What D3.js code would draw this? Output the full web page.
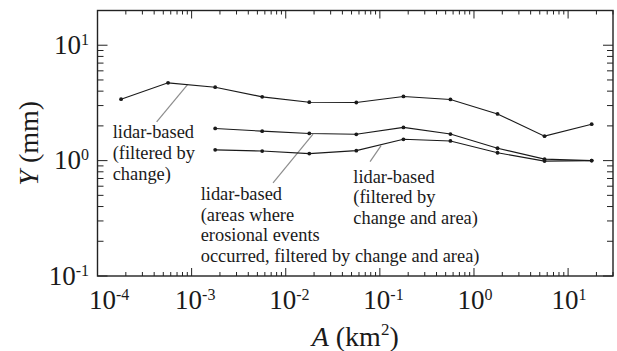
<!DOCTYPE html>
<html>
<head>
<meta charset="utf-8">
<script src="https://cdn.jsdelivr.net/npm/d3@7"></script>
<style>
  body { margin: 0; background: #fff; }
</style>
</head>
<body>
<div id="chart-container"></div>
<script>
// Drainage area A (km2) of each bin
var areas = [1.78e-4, 5.62e-4, 1.78e-3, 5.62e-3, 1.78e-2, 5.62e-2, 0.178, 0.562, 1.78, 5.62, 17.8];

// Y (mm) for each series
var filteredByChange = [3.41, 4.72, 4.33, 3.57, 3.21, 3.19, 3.60, 3.39, 2.54, 1.63, 2.07];
var erosionalAreas  = [null, null, 1.90, 1.80, 1.72, 1.69, 1.94, 1.70, 1.28, 1.03, 1.00];
var changeAndArea   = [null, null, 1.24, 1.21, 1.15, 1.22, 1.53, 1.48, 1.17, 0.99, 1.00];

var xTicks = [1e-4, 1e-3, 1e-2, 1e-1, 1e0, 1e1];
var yTicks = [1e-1, 1e0, 1e1];

// leader lines from labels to curves, in data units [A, Y]
var leaders = [
  [[4.25e-4, 2.17], [9.1e-4, 4.58]],
  [[7.33e-3, 0.64], [0.0195, 1.70]],
  [[0.0787, 0.98], [0.103, 1.35]]
];

var labels = [
  { x: 112.7, y: 138.3, lines: ["lidar-based", "(filtered by", "change)"] },
  { x: 200.7, y: 200, lines: ["lidar-based", "(areas where", "erosional events", "occurred, filtered by change and area)"] },
  { x: 353.3, y: 182.5, lines: ["lidar-based", "(filtered by", "change and area)"] }
];

var FONT = "'Liberation Serif'";

var margin = { top: 10.5, right: 4, bottom: 75, left: 97.5 },
  width = 617 - margin.left - margin.right,
  height = 351 - margin.top - margin.bottom;

var svg = d3.select("#chart-container")
  .append("svg")
  .attr("width", 617)
  .attr("height", 351)
  .append("g")
  .attr("transform", "translate(" + margin.left + "," + margin.top + ")");

var xScale = d3.scaleLog().domain([1e-4, 30]).range([0, width]);
var yScale = d3.scaleLog().domain([0.1, 20]).range([height, 0]);

// text helper with the serif font set directly
function addText(x, y, size) {
  return svg.append("text")
    .attr("x", x).attr("y", y)
    .attr("font-size", size)
    .style("font-family", FONT)
    .style("fill", "#1a1a1a");
}

// minor ticks
function minorTicks(scale) {
  var d = scale.domain(), out = [];
  for (var e = Math.floor(Math.log10(d[0])); e <= Math.ceil(Math.log10(d[1])); e++) {
    for (var m = 1; m < 10; m++) {
      var v = m * Math.pow(10, e);
      if (v >= d[0] * 0.999 && v <= d[1] * 1.001) out.push({ v: v, major: m === 1 });
    }
  }
  return out;
}

var tickColor = "#222";
var xt = minorTicks(xScale), yt = minorTicks(yScale);

var ticks = svg.append("g").attr("stroke", tickColor).attr("stroke-width", 1);
xt.forEach(function(t) {
  var x = xScale(t.v), len = t.major ? 8 : 4;
  ticks.append("line").attr("x1", x).attr("x2", x).attr("y1", height).attr("y2", height - len);
  ticks.append("line").attr("x1", x).attr("x2", x).attr("y1", 0).attr("y2", len);
});
yt.forEach(function(t) {
  var y = yScale(t.v), len = t.major ? 10 : 6;
  ticks.append("line").attr("y1", y).attr("y2", y).attr("x1", 0).attr("x2", len);
  ticks.append("line").attr("y1", y).attr("y2", y).attr("x1", width).attr("x2", width - len);
});

// frame
svg.append("rect")
  .attr("width", width).attr("height", height)
  .attr("fill", "none").attr("stroke", tickColor).attr("stroke-width", 1.4);

// tick labels
function expText(sel, v) {
  var e = Math.round(Math.log10(v));
  sel.append("tspan").text("10");
  sel.append("tspan").attr("font-size", 16).attr("dy", -9).text(String(e));
}
xTicks.forEach(function(v, i) {
  // first label is nudged right, off the corner
  var off = i === 0 ? -8.5 : -16.5;
  expText(addText(xScale(v) + off, 309 - margin.top, 27), v);
});
yTicks.forEach(function(v) {
  expText(addText(-8.5, yScale(v) + 8.5, 27).attr("text-anchor", "end"), v);
});

// axis titles
var xt2 = addText(311.7 - margin.left, 346 - margin.top, 28);
xt2.append("tspan").style("font-style", "italic").text("A");
xt2.append("tspan").text(" (km");
xt2.append("tspan").attr("font-size", 17).attr("dy", -11).text("2");
xt2.append("tspan").attr("dy", 11).text(")");

var yt2 = addText(0, 0, 28)
  .attr("transform", "translate(" + (38 - margin.left) + "," + (height / 2) + ") rotate(-90)")
  .attr("text-anchor", "middle");
yt2.append("tspan").style("font-style", "italic").text("Y");
yt2.append("tspan").text(" (mm)");

// leader lines
leaders.forEach(function(l) {
  svg.append("line")
    .attr("x1", xScale(l[0][0])).attr("y1", yScale(l[0][1]))
    .attr("x2", xScale(l[1][0])).attr("y2", yScale(l[1][1]))
    .attr("stroke", "#8c8c8c").attr("stroke-width", 1.2);
});

// series
var line = d3.line()
  .defined(function(d) { return d[1] != null; })
  .x(function(d) { return xScale(d[0]); })
  .y(function(d) { return yScale(d[1]); });

[filteredByChange, erosionalAreas, changeAndArea].forEach(function(vals) {
  var pts = areas.map(function(a, i) { return [a, vals[i]]; });
  svg.append("path")
    .datum(pts)
    .attr("d", line)
    .attr("fill", "none").attr("stroke", "#1a1a1a").attr("stroke-width", 1.1);
  svg.selectAll(null)
    .data(pts.filter(function(d) { return d[1] != null; }))
    .enter().append("circle")
    .attr("cx", function(d) { return xScale(d[0]); })
    .attr("cy", function(d) { return yScale(d[1]); })
    .attr("r", 1.9).attr("fill", "#1a1a1a");
});

// labels
labels.forEach(function(lb) {
  lb.lines.forEach(function(s, i) {
    addText(lb.x - margin.left, lb.y - margin.top + i * 20.7, 18.4).text(s);
  });
});
</script>
</body>
</html>
